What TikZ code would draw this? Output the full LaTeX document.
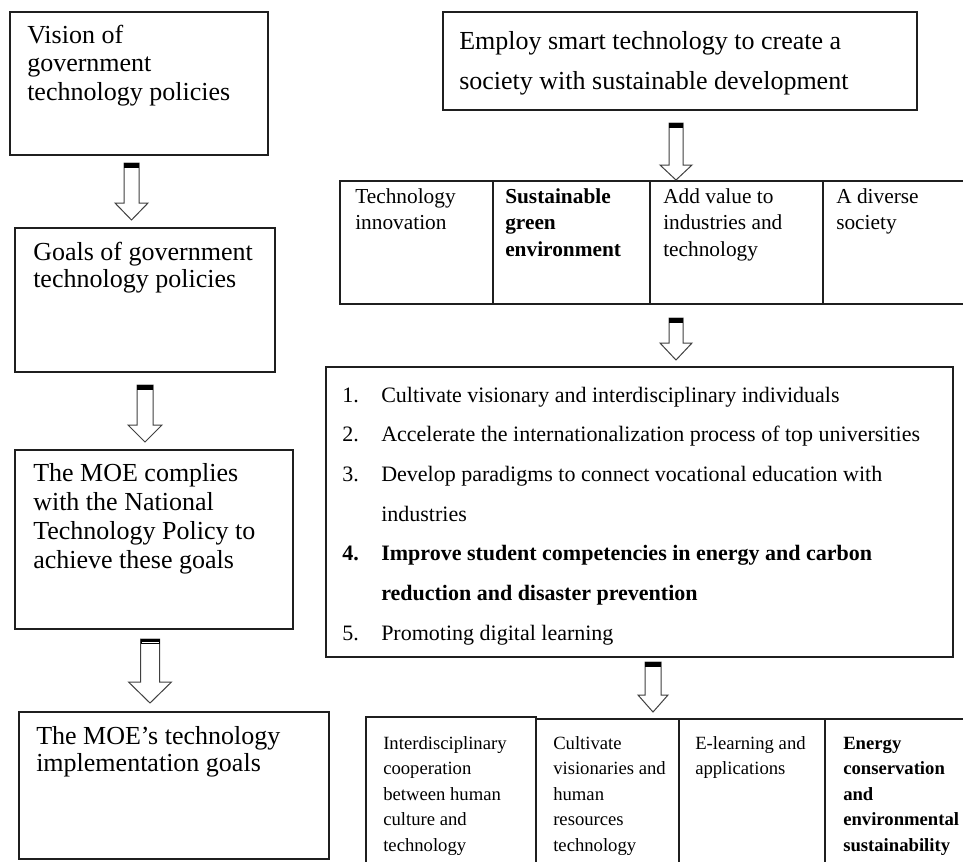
\documentclass[tikz,border=0pt]{standalone}
\usepackage{fontspec}
\setmainfont{Liberation Serif}
\usetikzlibrary{calc,fit}
\newcommand\lns[1]{\begin{tabular}[t]{@{}l@{}}#1\end{tabular}}
\newcommand\fs[2]{\fontsize{#1}{#2}\selectfont}
\newcommand\numi[1]{\makebox[29.25pt][l]{#1}}
\tikzset{
  box/.style={draw=black!88, line width=1.1pt, inner sep=0pt, rectangle},
  txt/.style={anchor=base west, inner sep=0pt},
  arrowline/.style={draw=black!75, fill=white, line width=0.75pt, line join=miter},
}
% #1 start, #2 tip, #3 shaft half width, #4 head half width, #5 head length
\newcommand\blockarr[5]{%
  \draw[arrowline] ($(#1)+(-#3,0)$) -- ($(#1)+(#3,0)$) -- ($(#2)+(#3,-#5)$)
     -- ($(#2)+(#4,-#5)$) -- (#2) -- ($(#2)+(-#4,-#5)$) -- ($(#2)+(-#3,-#5)$) -- cycle;
  \fill[black] ($(#1)+(-#3,0)$) rectangle ($(#1)+(#3,5)$);
}
\begin{document}
\begin{tikzpicture}[x=0.75pt,y=-0.75pt]
\clip (0,0) rectangle (963,861);
\fill[white] (0,0) rectangle (963,861);

% ---------- left column ----------
\node[box, fit={(10,12) (268,155)}] (vision) {};
\node[txt, font=\fs{19.5pt}{21.4pt}] (visiont) at (27,43)
  {\lns{Vision of\\government\\technology policies}};

\node[box, fit={(15,228) (275,372)}] (goals) {};
\node[txt, font=\fs{19.5pt}{20.25pt}] (goalst) at (33,260)
  {\lns{Goals of government\\technology policies}};

\node[box, fit={(15,450) (293,629)}] (moe) {};
\node[txt, font=\fs{19.5pt}{21.6pt}] (moet) at (33,481.7)
  {\lns{The MOE complies\\with the National\\Technology Policy to\\achieve these goals}};

\node[box, fit={(19,712) (329,859)}] (impl) {};
\node[txt, font=\fs{19.5pt}{20.25pt}] (implt) at (36,744)
  {\lns{The MOE’s technology\\implementation goals}};

% ---------- right column ----------
\node[box, fit={(443,12) (917,110)}] (employ) {};
\node[txt, font=\fs{19.5pt}{30pt}] (employt) at (459,49)
  {\lns{Employ smart technology to create a\\society with sustainable development}};

\node[box, fit={(340,181) (493,304)}] (c1) {};
\node[box, fit={(493,181) (650,304)}] (c2) {};
\node[box, fit={(650,181) (823,304)}] (c3) {};
\node[box, fit={(823,181) (980,304)}] (c4) {};
\node[txt, font=\fs{16pt}{20pt}] (c1t) at (355,203) {\lns{Technology\\innovation}};
\node[txt, font=\fs{16pt}{20pt}\bfseries] (c2t) at (505,203) {\lns{Sustainable\\green\\environment}};
\node[txt, font=\fs{16pt}{20pt}] (c3t) at (663,203) {\lns{Add value to\\industries and\\technology}};
\node[txt, font=\fs{16pt}{20pt}] (c4t) at (836,203) {\lns{A diverse\\society}};

\node[box, fit={(326,367) (953,657)}] (list) {};
\node[txt, font=\fs{16.5pt}{29.8pt}] (listt) at (342,402)
  {\lns{\numi{1.}Cultivate visionary and interdisciplinary individuals\\
        \numi{2.}Accelerate the internationalization process of top universities\\
        \numi{3.}Develop paradigms to connect vocational education with\\
        \numi{}industries\\
        \textbf{\numi{4.}Improve student competencies in energy and carbon}\\
        \textbf{\numi{}reduction and disaster prevention}\\
        \numi{5.}Promoting digital learning}};

\node[box, fit={(366,717) (536,880)}] (b1) {};
\node[box, fit={(536,719) (679,880)}] (b2) {};
\node[box, fit={(679,719) (825,880)}] (b3) {};
\node[box, fit={(825,719) (980,880)}] (b4) {};
\node[txt, font=\fs{14pt}{19.1pt}] (b1t) at (383,749.5)
  {\lns{Interdisciplinary\\cooperation\\between human\\culture and\\technology}};
\node[txt, font=\fs{14pt}{19.1pt}] (b2t) at (553,749.5)
  {\lns{Cultivate\\visionaries and\\human\\resources\\technology}};
\node[txt, font=\fs{14pt}{19.1pt}] (b3t) at (695,749.5)
  {\lns{E-learning and\\applications}};
\node[txt, font=\fs{14pt}{19.1pt}\bfseries] (b4t) at (843,749.5)
  {\lns{Energy\\conservation\\and\\environmental\\sustainability}};

% ---------- block arrows (connectors) ----------
\coordinate (a1s) at (131.5,163); \coordinate (a1e) at (131.5,220);
\coordinate (a2s) at (145,385);   \coordinate (a2e) at (145,442);
\coordinate (a3s) at (150,639);   \coordinate (a3e) at (150,703);
\coordinate (a4s) at (676,123);   \coordinate (a4e) at (676,180);
\coordinate (a5s) at (676,318);   \coordinate (a5e) at (676,360);
\coordinate (a6s) at (653,662);   \coordinate (a6e) at (653,712);
\blockarr{a1s}{a1e}{7.5}{16.5}{17}
\blockarr{a2s}{a2e}{8}{17}{17}
\blockarr{a3s}{a3e}{9.5}{21.5}{21}
\fill[white] ($(a3s)+(-8.5,3)$) rectangle ($(a3s)+(8.5,4)$);
\blockarr{a4s}{a4e}{7}{16}{15}
\blockarr{a5s}{a5e}{7}{16}{17}
\blockarr{a6s}{a6e}{8}{15}{17}
\end{tikzpicture}
\end{document}
